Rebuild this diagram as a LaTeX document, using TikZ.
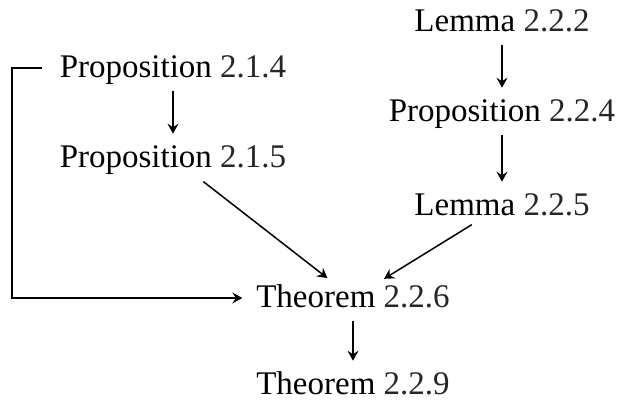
\documentclass[tikz,border=0pt]{standalone}
\usepackage{fontspec}
\setmainfont{Liberation Serif}
\usetikzlibrary{arrows.meta}
\definecolor{NumGray}{HTML}{262626}
\newcommand{\refnum}[1]{\textcolor{NumGray}{#1}}

\begin{document}
\begin{tikzpicture}[
        x=0.5pt, y=-0.5pt, >={Stealth[length=5pt, width=5.5pt, inset=1.8pt]},
        font=\fontsize{16.5}{20}\selectfont,
        res/.style={inner sep=0pt, outer sep=0pt, text height=1.05em, text depth=0.08em},
        link/.style={->, line width=0.75pt, shorten <=6pt, shorten >=6.5pt},
      ]
        \useasboundingbox (0,0) rectangle (618,407);
        \node[res] (lem222)  at (502,22)  {Lemma \refnum{2.2.2}};
        \node[res] (prop214) at (173,68)  {Proposition \refnum{2.1.4}};
        \node[res] (prop224) at (502,112) {Proposition \refnum{2.2.4}};
        \node[res] (prop215) at (173,158) {Proposition \refnum{2.1.5}};
        \node[res] (lem225)  at (502,206) {Lemma \refnum{2.2.5}};
        \node[res] (thm226)  at (353,298) {Theorem \refnum{2.2.6}};
        \node[res] (thm229)  at (353,385) {Theorem \refnum{2.2.9}};
        \draw[link] (prop214) -- (prop215);
        \draw[link] (lem222)  -- (prop224);
        \draw[link] (prop224) -- (lem225);
        \draw[link] (thm226)  -- (thm229);
        \draw[link, shorten <=10pt, shorten >=7pt] (prop215) -- (thm226);
        \draw[link, shorten <=7pt, shorten >=7.5pt] (lem225)  -- (thm226);
        \draw[link, shorten <=9pt, shorten >=7pt] (prop214.west) -- ++(-48,0) |- (thm226.west);
      \end{tikzpicture}
\end{document}
